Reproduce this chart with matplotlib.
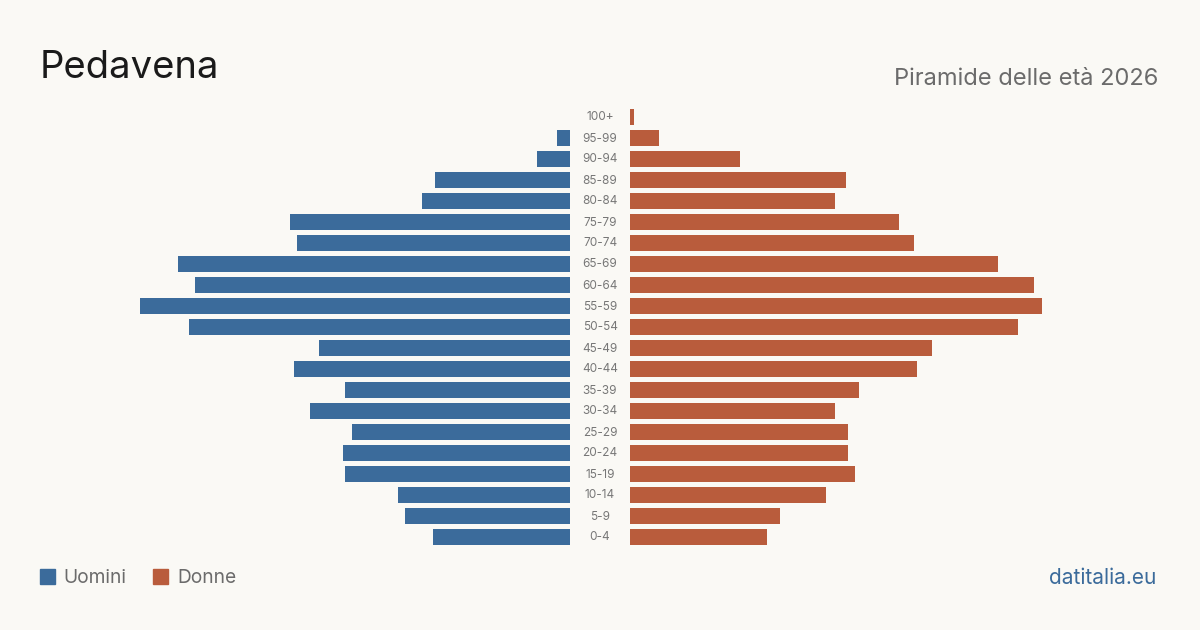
import matplotlib.pyplot as plt
import numpy as np

plt.rcParams["font.family"] = ["Inter", "DejaVu Sans"]

eta = ["100+", "95-99", "90-94", "85-89", "80-84", "75-79", "70-74",
       "65-69", "60-64", "55-59", "50-54", "45-49", "40-44", "35-39",
       "30-34", "25-29", "20-24", "15-19", "10-14", "5-9", "0-4"]
uomini = [0, 6, 15, 61, 67, 127, 124, 178, 170, 195, 173, 114, 125, 102,
          118, 99, 103, 102, 78, 75, 62]
donne = [2, 13, 50, 98, 93, 122, 129, 167, 183, 187, 176, 137, 130, 104,
         93, 99, 99, 102, 89, 68, 62]

BG = "#FAF9F5"
BLUE = "#3B6B9B"
RED = "#B95C3C"

W, H = 1200, 630
fig = plt.figure(figsize=(12, 6.3), dpi=100, facecolor=BG)

pxs = 2.205          # pixel per persona
wpx = 440
top_px, bot_px = 106.5, 547.5
ax_b = (H - bot_px) / H
ax_h = (bot_px - top_px) / H

axL = fig.add_axes([(570 - wpx) / W, ax_b, wpx / W, ax_h])
axR = fig.add_axes([630 / W, ax_b, wpx / W, ax_h])

y = np.arange(len(eta))
axL.barh(y, uomini, height=0.8, color=BLUE)
axR.barh(y, donne, height=0.8, color=RED)

for ax in (axL, axR):
    ax.set_xlim(0, wpx / pxs)
    ax.set_ylim(len(eta) - 0.5, -0.5)
    ax.axis("off")
    ax.set_facecolor("none")
axL.invert_xaxis()

for i, lab in enumerate(eta):
    fig.text(600 / W, (H - (117.5 + 21 * i)) / H, lab, ha="center", va="center",
             fontsize=8.5, color="#777777")

fig.text(40 / W, (H - 68.5) / H, "Pedavena", fontsize=27.5, color="#1a1a1a",
         ha="left", va="center")
fig.text(1158 / W, (H - 79) / H, "Piramide delle età 2026", fontsize=17,
         color="#6b6b6b", ha="right", va="center")

# legenda
fig.patches.append(plt.Rectangle((40 / W, (H - 584) / H), 15 / W, 15 / H,
                                 transform=fig.transFigure, color=BLUE))
fig.text(63 / W, (H - 578) / H, "Uomini", fontsize=13.8, color="#6b6b6b",
         ha="left", va="center")
fig.patches.append(plt.Rectangle((153 / W, (H - 584) / H), 15 / W, 15 / H,
                                 transform=fig.transFigure, color=RED))
fig.text(177 / W, (H - 578) / H, "Donne", fontsize=13.8, color="#6b6b6b",
         ha="left", va="center")

fig.text(1156 / W, (H - 578) / H, "datitalia.eu", fontsize=15, color=BLUE,
         ha="right", va="center")

fig.savefig("out.png", dpi=100, facecolor=BG)
